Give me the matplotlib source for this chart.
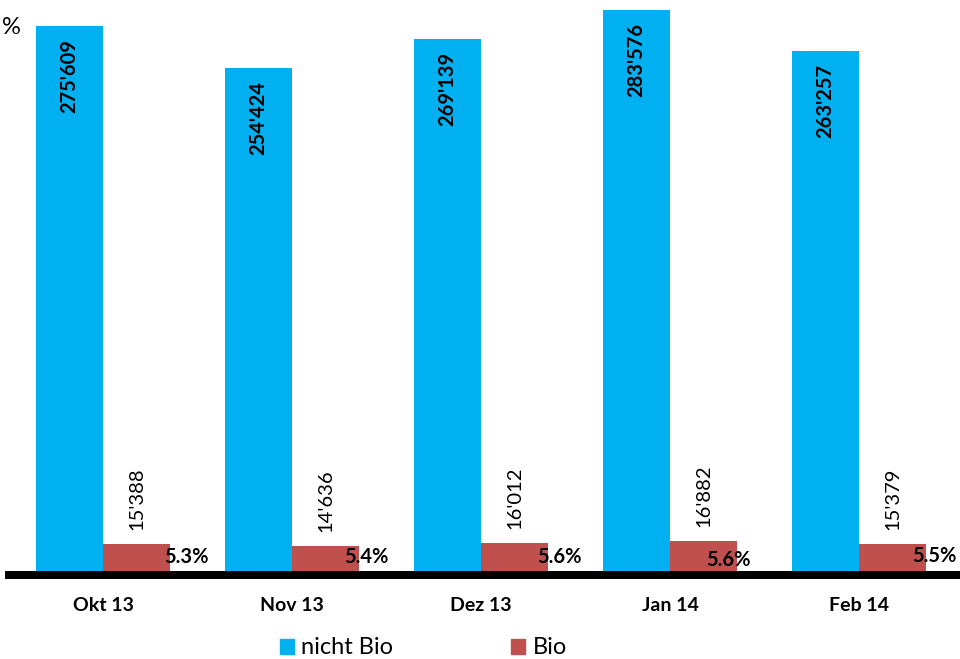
import matplotlib.pyplot as plt
from matplotlib.patches import Patch
import numpy as np

months = ['Okt 13', 'Nov 13', 'Dez 13', 'Jan 14', 'Feb 14']
nicht_bio = [275609, 254424, 269139, 283576, 263257]
bio = [15388, 14636, 16012, 16882, 15379]
bio_share = [5.3, 5.4, 5.6, 5.6, 5.5]

blue = '#00B0F0'
red = '#C0504D'
plt.rcParams['font.family'] = ['Lato', 'DejaVu Sans']


def fmt(v):
    return f'{v:,}'.replace(',', "'")


fig = plt.figure(figsize=(9.6, 6.59), dpi=100)
ax = fig.add_axes([9 / 960, 84 / 659, 949 / 960, 575 / 659])

x = np.arange(len(months))
w = 0.354
ax.bar(x - w / 2, nicht_bio, w, color=blue)
ax.bar(x + w / 2, bio, w, color=red)

ax.set_xlim(-0.498, 4.523)
ax.set_ylim(0, 288650)

px = 0.72  # points per pixel
for i in range(len(months)):
    ax.annotate(fmt(nicht_bio[i]), (x[i] - w / 2, nicht_bio[i]),
                xytext=(0, -13 * px), textcoords='offset points',
                rotation=90, ha='center', va='top', fontsize=14.5, fontweight='bold')
    ax.annotate(fmt(bio[i]), (x[i] + w / 2, bio[i]),
                xytext=(0, 14 * px), textcoords='offset points',
                rotation=90, ha='center', va='bottom', fontsize=14.5)

# percent labels, placed by hand like in the original
pct_dx = [83, 74, 78, 58, 75]
pct_dy = [18, 18, 18, 15, 19]
for i in range(len(months)):
    ax.annotate(f'{bio_share[i]}%', (x[i], 0),
                xytext=(pct_dx[i] * px, pct_dy[i] * px), textcoords='offset points',
                ha='center', va='center', fontsize=14.5, fontweight='bold')

for s in ['top', 'right', 'left']:
    ax.spines[s].set_visible(False)
ax.spines['bottom'].set_linewidth(8 * px)
ax.spines['bottom'].set_color('black')
ax.set_yticks([])
ax.set_xticks(x)
ax.set_xticklabels(months, fontsize=14, fontweight='bold')
ax.tick_params(axis='x', length=0, pad=16)

fig.text(2 / 960, 1 - 28 / 659, '%', fontsize=17, va='center', ha='left')

handles = [Patch(color=blue, label='nicht Bio'), Patch(color=red, label='Bio')]
fig.legend(handles=handles, loc='center', bbox_to_anchor=(0.441, 0.0167),
           ncol=2, frameon=False, fontsize=17, handlelength=0.6, handleheight=0.6,
           handletextpad=0.3, columnspacing=5.0, borderpad=0)

fig.savefig('out.png', dpi=100)
